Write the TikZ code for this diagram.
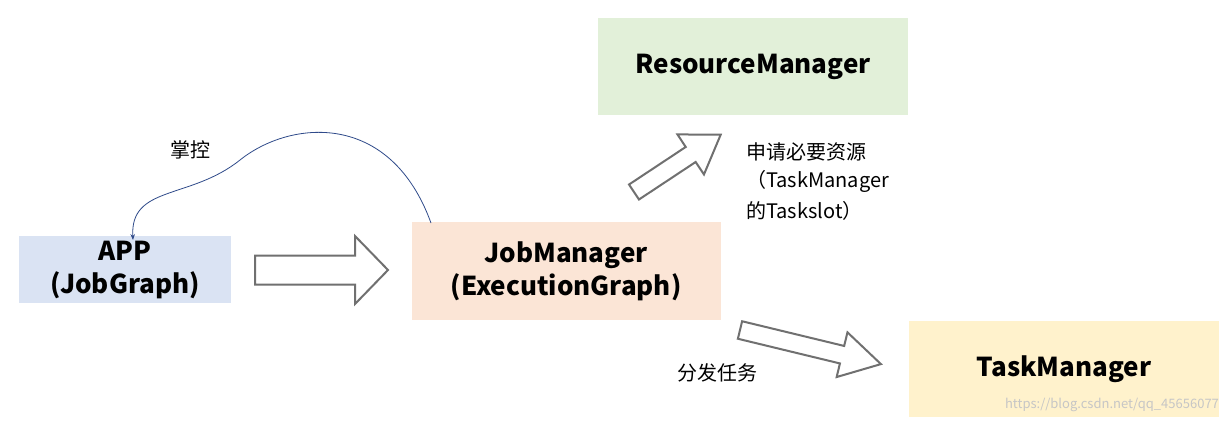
\documentclass[tikz,border=0pt]{standalone}
\usepackage{fontspec}
\setmainfont{Noto Sans CJK SC}
\usetikzlibrary{arrows.meta}
\definecolor{cblue}{HTML}{DAE3F3}
\definecolor{corange}{HTML}{FBE5D6}
\definecolor{cgreen}{HTML}{E2F0D9}
\definecolor{cyellow}{HTML}{FFF2CC}
\definecolor{agray}{HTML}{707070}
\definecolor{cnavy}{HTML}{2F4A8A}
\tikzset{
 box/.style={inner sep=0pt, align=center, font=\fontsize{26}{33}\selectfont\bfseries},
 lbl/.style={inner sep=0pt, anchor=west, font=\fontsize{20}{24}\selectfont},
 blockarrow/.style={draw=agray, line width=2pt, fill=white, line join=miter}
}
\newcommand{\blockarr}[7]{% x y angle L w h hl
 \begin{scope}[shift={(#1,#2)}, rotate=#3]
 \draw[blockarrow] (0,-#5) -- ({#4-#7},-#5) -- ({#4-#7},-#6) -- (#4,0) -- ({#4-#7},#6) -- ({#4-#7},#5) -- (0,#5) -- cycle;
 \end{scope}}
\begin{document}
\begin{tikzpicture}[x=1pt,y=-1pt]
\useasboundingbox[fill=white] (0,0) rectangle (1226,424);
\fill[cblue] (19,236) rectangle (231,303);
\node[box] (app) at (125,270) {APP\\(JobGraph)};
\fill[corange] (412,222) rectangle (721,320);
\node[box] (jm) at (566,271) {JobManager\\(ExecutionGraph)};
\fill[cgreen] (598,18) rectangle (908,115);
\node[box] (rm) at (753,67) {ResourceManager};
\fill[cyellow] (909,321) rectangle (1219,417);
\node[box] (tm) at (1064,369) {TaskManager};
\blockarr{255}{270}{0}{133}{14.5}{34}{33}
\blockarr{634}{192}{33.5}{104}{9}{24}{36}
\blockarr{740}{330}{-13.6}{145}{9}{23}{40}
\coordinate (cs) at (431,223);
\coordinate (ce) at (133,240);
\draw[cnavy, line width=0.8pt, -{Stealth[length=6pt]}] (cs) .. controls (390,110) and (290,120) .. (240,160) .. controls (190,200) and (130,185) .. (ce);
\node[lbl] (zk) at (170,150) {掌控};
\node[lbl] (l1) at (746,152) {申请必要资源};
\node[lbl] (l2) at (746,181) {（TaskManager};
\node[lbl] (l3) at (746,211) {的Taskslot）};
\node[lbl] (l4) at (677,373) {分发任务};
\node[inner sep=0pt, text=gray!45, font=\fontsize{13}{15}\selectfont] (wm) at (1112,405) {https://blog.csdn.net/qq\_45656077};
\end{tikzpicture}
\end{document}
